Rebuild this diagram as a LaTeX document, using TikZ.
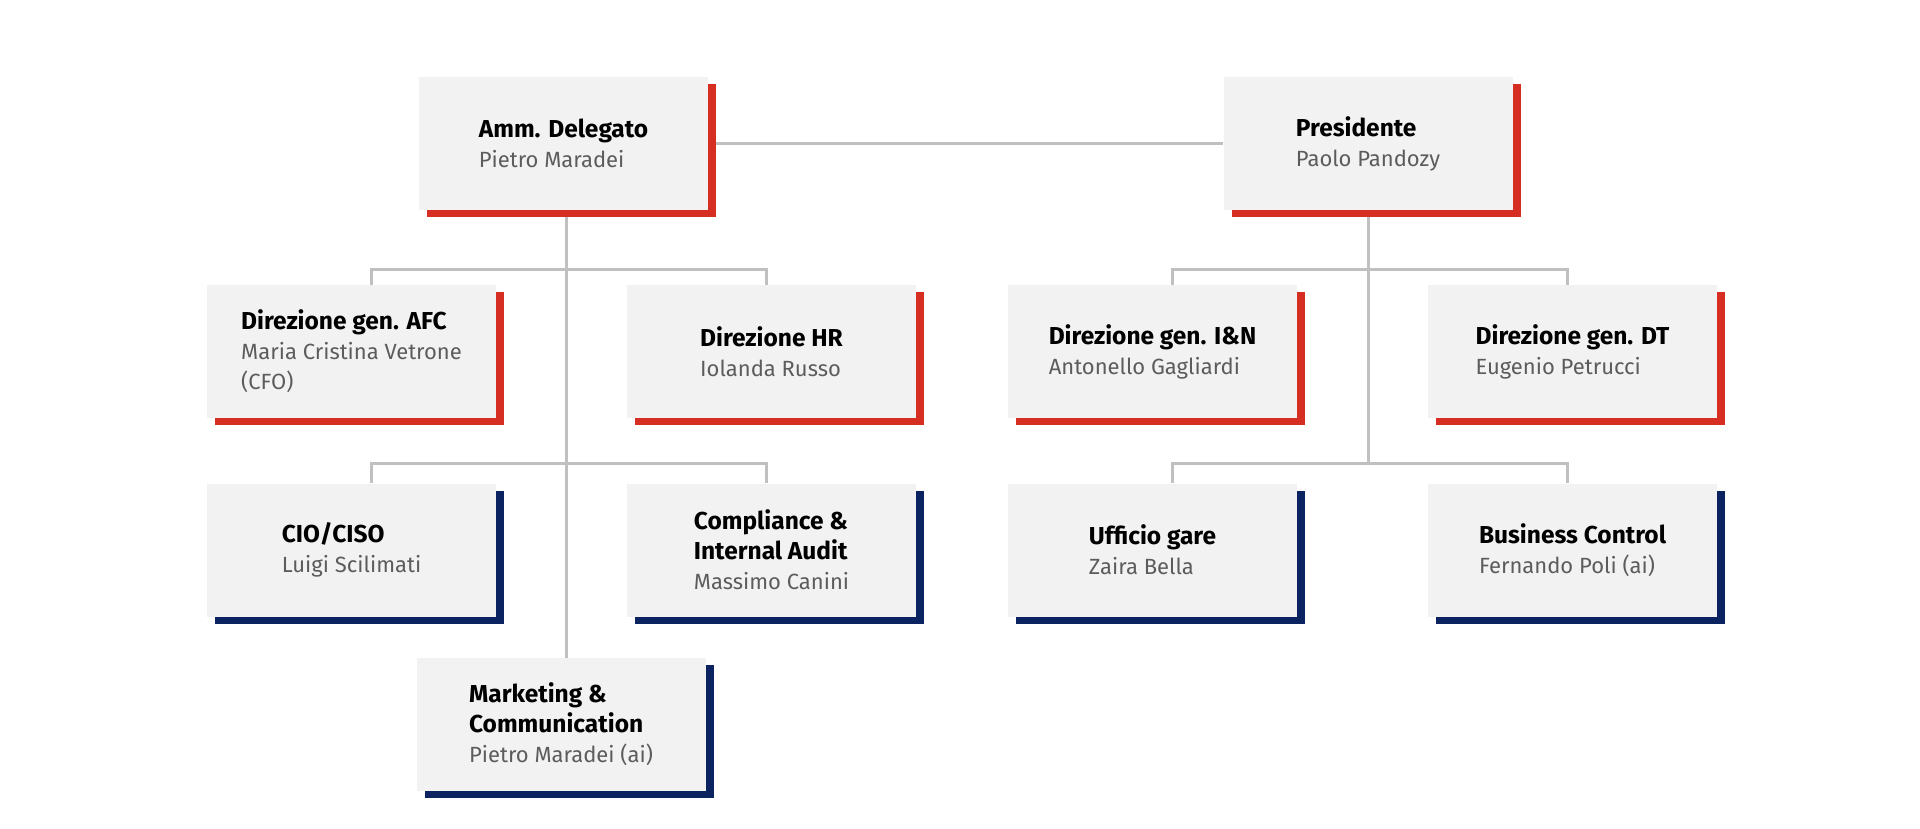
\documentclass[tikz,border=0pt]{standalone}
\usepackage{fontspec}
\setmainfont{Fira Sans}
\usetikzlibrary{shadows,backgrounds}
\definecolor{boxgrey}{HTML}{F2F2F2}
\definecolor{barred}{HTML}{D62E22}
\definecolor{barblue}{HTML}{0B2461}
\definecolor{linegrey}{HTML}{C0C0C0}
\definecolor{namegrey}{HTML}{5C5C5C}
\newcommand{\ttl}[1]{{\fontsize{24.5}{30}\selectfont\bfseries #1}}
\newcommand{\who}[1]{{\color{namegrey}#1}}

\begin{document}
\begin{tikzpicture}[x=1pt,y=1pt,
    unit/.style={fill=boxgrey, minimum width=289pt, minimum height=133pt,
        align=left, inner sep=0pt, font=\fontsize{22}{30}\selectfont},
    redunit/.style={unit, drop shadow={shadow xshift=8pt, shadow yshift=-7pt,
        fill=barred, opacity=1}},
    blueunit/.style={unit, drop shadow={shadow xshift=8pt, shadow yshift=-7pt,
        fill=barblue, opacity=1}},
    link/.style={draw=linegrey, line width=3pt}]
    \useasboundingbox (0,0) rectangle (1920,-829);

    % top
    \node[redunit] (amm) at (563.5,-143.5) {\ttl{Amm. Delegato}\\\who{Pietro Maradei}};
    \node[redunit] (pres) at (1368,-143.5) {\ttl{Presidente}\\\who{Paolo Pandozy}};

    % left branch
    \node[redunit] (afc) at (351.5,-351.5) {\ttl{Direzione gen. AFC}\\\who{Maria Cristina Vetrone}\\\who{(CFO)}};
    \node[redunit] (hr) at (771.5,-351.5) {\ttl{Direzione HR}\\\who{Iolanda Russo}};
    \node[blueunit] (cio) at (351.5,-550) {\ttl{CIO/CISO}\\\who{Luigi Scilimati}};
    \node[blueunit] (audit) at (771.5,-550) {\ttl{Compliance \&}\\\ttl{Internal Audit}\\\who{Massimo Canini}};
    \node[blueunit] (mkt) at (561,-724.5) {\ttl{Marketing \&}\\\ttl{Communication}\\\who{Pietro Maradei (ai)}};

    % right branch
    \node[redunit] (ien) at (1152.5,-351.5) {\ttl{Direzione gen. I\&N}\\\who{Antonello Gagliardi}};
    \node[redunit] (dt) at (1572.5,-351.5) {\ttl{Direzione gen. DT}\\\who{Eugenio Petrucci}};
    \node[blueunit] (gare) at (1152.5,-550) {\ttl{Ufficio gare}\\\who{Zaira Bella}};
    \node[blueunit] (bc) at (1572.5,-550) {\ttl{Business Control}\\\who{Fernando Poli (ai)}};

    \coordinate (lrow1) at (566,-269);
    \coordinate (lrow2) at (566,-463);
    \coordinate (rrow1) at (1368,-269);
    \coordinate (rrow2) at (1368,-463);

    \begin{pgfonlayer}{background}
        \fill[white] (0,0) rectangle (1920,-829);
        \draw[link] (amm) -- (pres);
        \draw[link] (amm.south -| lrow1) -- (mkt.north -| lrow1);
        \draw[link] (pres.south) -- (rrow2);
        \draw[link] ([xshift=20pt]afc.north) |- (lrow1) -| ([xshift=-5pt]hr.north);
        \draw[link] ([xshift=20pt]cio.north) |- (lrow2) -| ([xshift=-5pt]audit.north);
        \draw[link] ([xshift=20pt]ien.north) |- (rrow1) -| ([xshift=-5pt]dt.north);
        \draw[link] ([xshift=20pt]gare.north) |- (rrow2) -| ([xshift=-5pt]bc.north);
    \end{pgfonlayer}
\end{tikzpicture}
\end{document}
